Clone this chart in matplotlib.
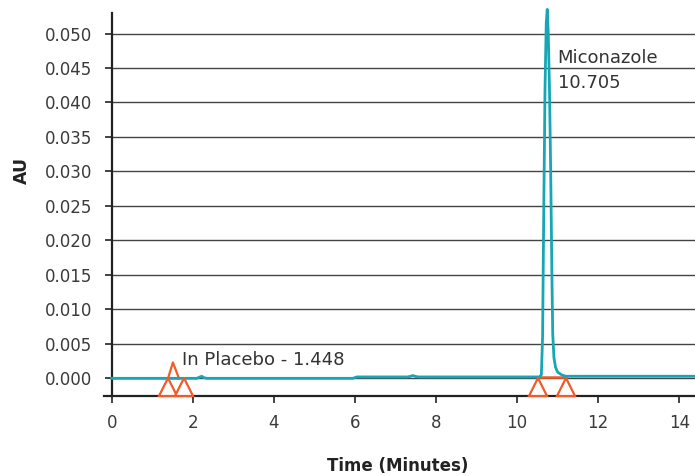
import matplotlib
matplotlib.use("Agg")
import matplotlib.pyplot as plt

# Chromatogram trace (time in minutes, absorbance in AU)
time_min = [0.00, 2.10, 2.18, 2.22, 2.27, 2.35, 5.95, 6.05, 7.30, 7.38, 7.43, 7.48, 7.56,
            10.55, 10.60, 10.63, 10.66, 10.69, 10.72, 10.745, 10.77, 10.80, 10.83, 10.86,
            10.88, 10.91, 10.95, 11.00, 11.10, 11.20, 14.40]
au = [0.0000, 0.0000, 0.0002, 0.0003, 0.0001, 0.0000, 0.0000, 0.0002, 0.0002, 0.0003,
      0.0004, 0.0003, 0.0002,
      0.0002, 0.0005, 0.0060, 0.0250, 0.0420, 0.0515, 0.0535, 0.0500, 0.0420, 0.0300,
      0.0150, 0.0065, 0.0030, 0.0016, 0.0009, 0.0005, 0.0003, 0.0003]

# Peak integration markers
placebo_peak_t = [1.39, 1.51, 1.66]
placebo_peak_au = [0.0000, 0.0023, 0.0000]
marker_t = [1.39, 1.78, 10.52, 11.21]
main_base_t = [10.52, 11.21]
main_base_au = [0.0002, 0.0002]

yticks = [0.000, 0.005, 0.010, 0.015, 0.020, 0.025, 0.030, 0.035, 0.040, 0.045, 0.050]
xticks = [0, 2, 4, 6, 8, 10, 12, 14]

teal = "#17a6b6"
orange = "#f25a29"

fig = plt.figure(figsize=(6.95, 4.76), dpi=100)
ax = fig.add_axes([0.1607, 0.168, 0.8393, 0.804])

for y in yticks:
    ax.axhline(y, color="#444444", lw=1.0, zorder=1)

ax.plot(main_base_t, main_base_au, color=orange, lw=1.8, zorder=2)
ax.plot(placebo_peak_t, placebo_peak_au, color=orange, lw=1.6, zorder=3)
ax.plot(time_min, au, color=teal, lw=2.0, zorder=4, clip_on=False)
ax.plot(marker_t, [-0.00125] * len(marker_t), linestyle="none", marker="^",
        markersize=13, markerfacecolor="white", markeredgecolor=orange,
        markeredgewidth=1.6, zorder=5, clip_on=False)

ax.text(11.0, 0.0447, "Miconazole\n10.705", fontsize=13, color="#333333",
        ha="left", va="center", linespacing=1.5)
ax.text(1.73, 0.0019, "In Placebo - 1.448", fontsize=13, color="#333333",
        ha="left", va="baseline")

ax.set_xlim(0, 14.39)
ax.set_ylim(-0.00257, 0.05293)
ax.set_xticks(xticks)
ax.set_yticks(yticks)
ax.set_yticklabels([f"{v:.3f}" for v in yticks])

for s in ["top", "right"]:
    ax.spines[s].set_visible(False)
for s in ["left", "bottom"]:
    ax.spines[s].set_color("#222222")
    ax.spines[s].set_linewidth(1.6)
ax.plot([-0.013, 0], [0, 0], transform=ax.transAxes, color="#222222", lw=1.6,
        clip_on=False)

ax.tick_params(axis="both", colors="#222222", labelcolor="#3a3a3a", labelsize=12,
               length=5, width=1.2)
ax.tick_params(axis="y", pad=9)
ax.tick_params(axis="x", pad=8)

ax.set_xlabel("Time (Minutes)", fontsize=12, fontweight="bold", color="#222222")
ax.set_ylabel("AU", fontsize=12.5, fontweight="bold", color="#222222")
ax.xaxis.set_label_coords(0.49, -0.16)
ax.yaxis.set_label_coords(-0.139, 0.59)

fig.savefig("out.png", dpi=100)
